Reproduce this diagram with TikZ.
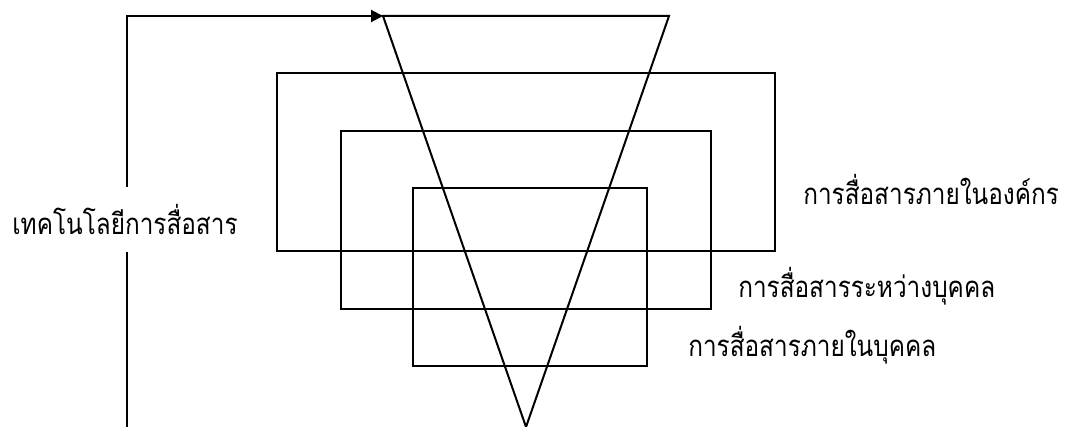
\documentclass[tikz,border=0pt]{standalone}
\usepackage{fontspec}
\newfontfamily\thaifont[Script=Thai,FakeStretch=0.83]{Loma}
\usetikzlibrary{arrows.meta}

\begin{document}
\begin{tikzpicture}[
  x=0.75pt, y=-0.75pt,
  >={Triangle[length=9pt,width=9pt]},
  frame/.style={line width=1.5pt},
  flow/.style={->, line width=1.5pt},
  lbl/.style={anchor=base west, inner sep=0pt, font=\thaifont\fontsize{22}{26}\selectfont},
]
\useasboundingbox (0,0) rectangle (1069,427);

% ---------- funnel ----------
\coordinate (tl) at (383,16);
\coordinate (tr) at (669,16);
\coordinate (tip) at (526,427);
\draw[frame] (tl) -- (tr) -- (tip) -- cycle;

% ---------- nested frames ----------
\draw[frame] (277,73) rectangle (775,251);
\draw[frame] (341,131) rectangle (711,309);
\draw[frame] (413,188) rectangle (647,366);

% ---------- feedback line ----------
\coordinate (foot) at (127,427);
\draw[flow] (foot) |- (tl);
\node[lbl, anchor=base, fill=white, text height=36pt, text depth=12.75pt, inner xsep=2pt]
  (tech) at (125,235) {เทคโนโลยีการสื่อสาร};

% ---------- levels ----------
\node[lbl] (org) at (803,205) {การสื่อสารภายในองค์กร};
\node[lbl] (inter) at (738,297) {การสื่อสารระหว่างบุคคล};
\node[lbl] (intra) at (688,356) {การสื่อสารภายในบุคคล};

\end{tikzpicture}
\end{document}
